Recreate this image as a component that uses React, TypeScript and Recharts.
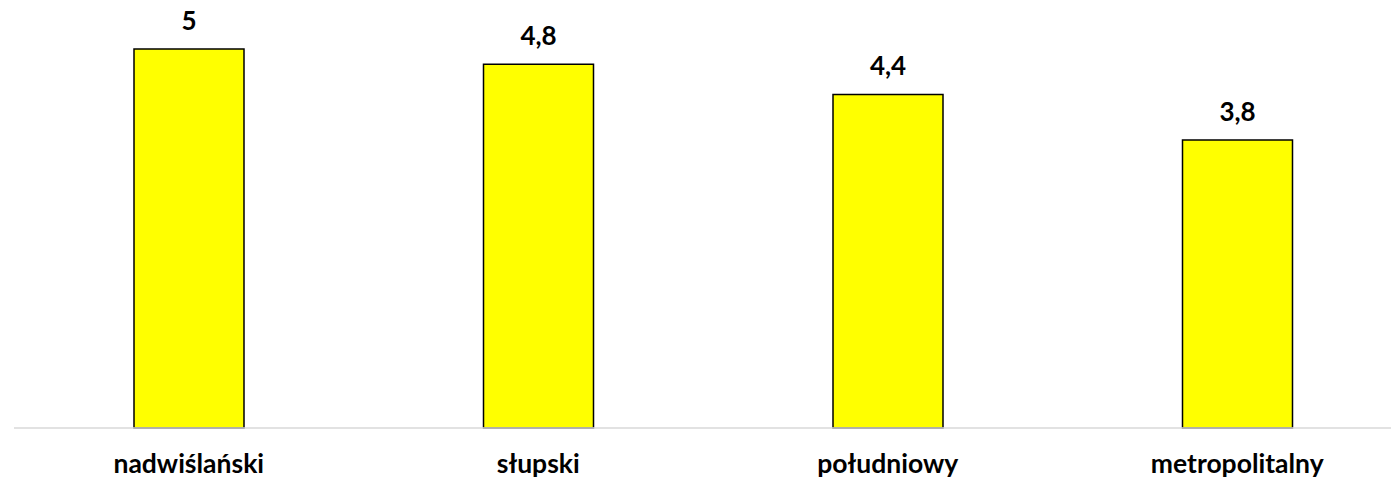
import React from 'react';
import { BarChart, Bar, XAxis, YAxis, LabelList } from 'recharts';

const categories = ['nadwiślański', 'słupski', 'południowy', 'metropolitalny'];
const values = [5, 4.8, 4.4, 3.8];

const data = categories.map((name, i) => ({ name, value: values[i] }));

const FONT = 'Lato, "Open Sans", sans-serif';

const CategoryTick = (props: any) => {
  const { x, y, payload } = props;
  return (
    <text
      x={x}
      y={y + 45}
      textAnchor="middle"
      fontFamily={FONT}
      fontWeight={700}
      fontSize={26.5}
      fill="#000"
    >
      {payload.value}
    </text>
  );
};

export default function App() {
  return (
    <div style={{ width: 1399, height: 478, margin: '-8px 0 0 -8px', overflow: 'hidden' }}>
      <BarChart
        width={1412}
        height={478}
        data={data}
        margin={{ top: 49, right: 0, bottom: 20, left: 14 }}
        style={{ overflow: 'visible' }}
      >
        <YAxis hide domain={[0, 5]} />
        <XAxis
          dataKey="name"
          axisLine={{ stroke: '#d9d9d9', strokeWidth: 1.5 }}
          tickLine={false}
          tickSize={0}
          tickMargin={0}
          height={30}
          interval={0}
          tick={<CategoryTick />}
        />
        <Bar
          dataKey="value"
          fill="#ffff00"
          stroke="#000"
          strokeWidth={1.5}
          barSize={110}
          isAnimationActive={false}
        >
          <LabelList
            dataKey="value"
            position="top"
            offset={19}
            formatter={(v: any) => String(v).replace('.', ',')}
            style={{ fontFamily: FONT, fontWeight: 700, fontSize: 26, fill: '#000' }}
          />
        </Bar>
      </BarChart>
    </div>
  );
}
